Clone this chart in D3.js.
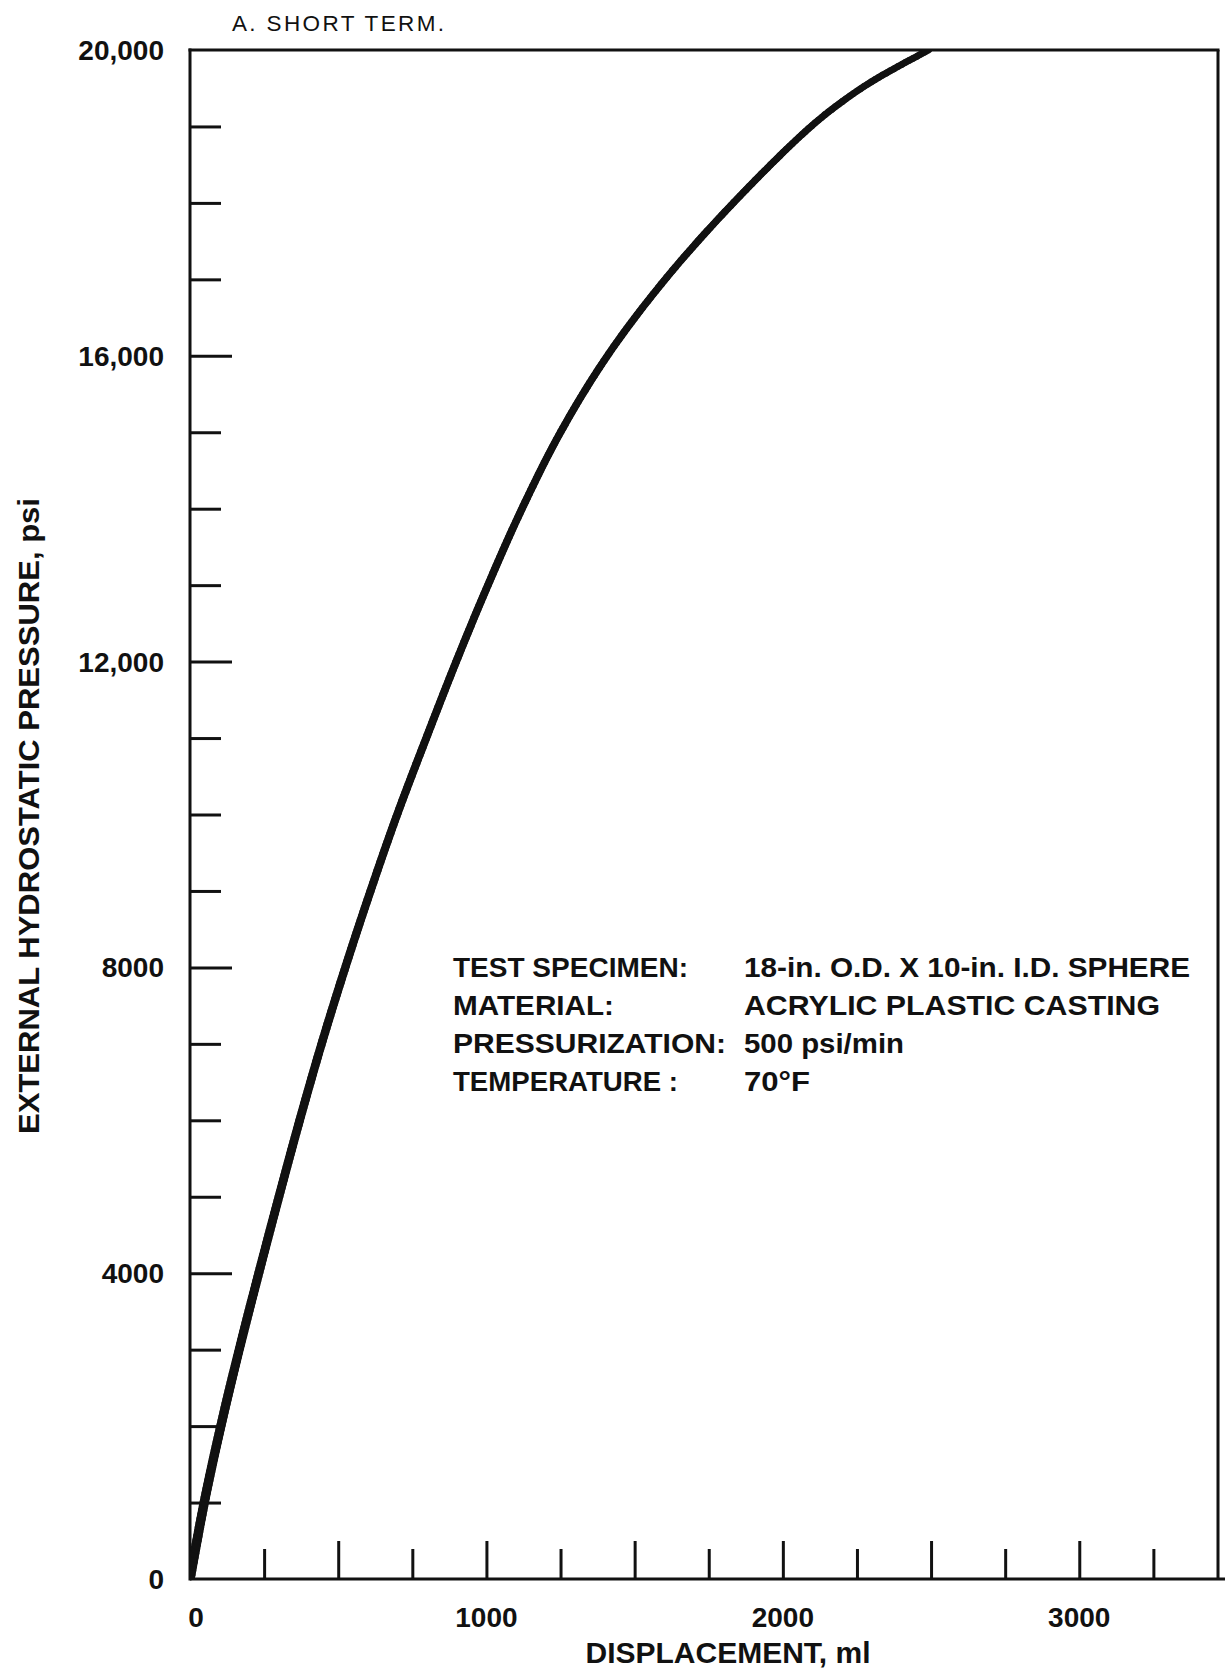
<!DOCTYPE html>
<html>
<head>
<meta charset="utf-8">
<script src="https://cdn.jsdelivr.net/npm/d3@7/dist/d3.min.js"></script>
<style>
  html, body { margin: 0; padding: 0; background: #fff; }
  svg { display: block; }
  text { font-family: "Liberation Sans", Arial, Helvetica, sans-serif; fill: #111; }
</style>
</head>
<body>
<svg id="chart" width="1225" height="1672"></svg>
<script>
// ---- data ----
const displacement = [0, 48, 104, 166, 232, 300, 370, 444, 524, 609, 699, 797, 898, 1005, 1120, 1250, 1408, 1603, 1833, 2095, 2227, 2327, 2492];
const pressure     = [0, 1000, 2000, 3000, 4000, 5000, 6000, 7000, 8000, 9000, 10000, 11000, 12000, 13000, 14000, 15000, 16000, 17000, 18000, 19000, 19400, 19650, 20000];

const yMinorTicks = [1000, 2000, 3000, 5000, 6000, 7000, 9000, 10000, 11000, 13000, 14000, 15000, 17000, 18000, 19000];
const yMajorTicks = [4000, 8000, 12000, 16000];
const yLabelValues = [0, 4000, 8000, 12000, 16000, 20000];
const yLabelTexts  = ["0", "4000", "8000", "12,000", "16,000", "20,000"];

const xMinorTicks = [250, 750, 1250, 1750, 2250, 2750, 3250];
const xMajorTicks = [500, 1000, 1500, 2000, 2500, 3000];
const xLabelValues = [0, 1000, 2000, 3000];
const xLabelTexts  = ["0", "1000", "2000", "3000"];

const titleText = "A. SHORT TERM.";
const xTitle = "DISPLACEMENT, ml";
const yTitle = "EXTERNAL HYDROSTATIC PRESSURE, psi";
const noteLabels = ["TEST SPECIMEN:", "MATERIAL:", "PRESSURIZATION:", "TEMPERATURE :"];
const noteValues = ["18-in. O.D. X 10-in. I.D. SPHERE", "ACRYLIC PLASTIC CASTING", "500 psi/min", "70°F"];

// ---- layout ----
const svg = d3.select("#chart");
const mLeft = 190, mRight = 1218, mTop = 50, mBottom = 1579;

const x = d3.scaleLinear().domain([0, 3468]).range([mLeft, mRight]);
const y = d3.scaleLinear().domain([0, 20000]).range([mBottom, mTop]);

svg.append("defs").append("clipPath").attr("id", "plotClip")
  .append("rect").attr("x", mLeft).attr("y", mTop).attr("width", mRight - mLeft).attr("height", mBottom - mTop);

// frame
const frame = svg.append("g").attr("stroke", "#111").attr("stroke-width", 3).attr("fill", "none");
frame.append("line").attr("x1", mLeft).attr("x2", mLeft).attr("y1", mTop - 1.5).attr("y2", mBottom + 1.5);
frame.append("line").attr("x1", mLeft).attr("x2", 1225).attr("y1", mBottom).attr("y2", mBottom);
frame.append("line").attr("x1", mLeft - 1.5).attr("x2", mRight + 1.5).attr("y1", mTop).attr("y2", mTop);
frame.append("line").attr("x1", mRight).attr("x2", mRight).attr("y1", mTop).attr("y2", mBottom);

function styleAxis(g) {
  g.select(".domain").remove();
  g.selectAll(".tick line").attr("stroke", "#111").attr("stroke-width", 3);
}
// y ticks (inward)
svg.append("g").attr("transform", `translate(${mLeft},0)`)
  .call(d3.axisRight(y).tickValues(yMinorTicks).tickSize(31).tickFormat(""))
  .call(styleAxis);
svg.append("g").attr("transform", `translate(${mLeft},0)`)
  .call(d3.axisRight(y).tickValues(yMajorTicks).tickSize(42).tickFormat(""))
  .call(styleAxis);

// x ticks (inward)
svg.append("g").attr("transform", `translate(0,${mBottom})`)
  .call(d3.axisTop(x).tickValues(xMinorTicks).tickSize(30).tickFormat(""))
  .call(styleAxis);
svg.append("g").attr("transform", `translate(0,${mBottom})`)
  .call(d3.axisTop(x).tickValues(xMajorTicks).tickSize(38).tickFormat(""))
  .call(styleAxis);

// y labels
svg.append("g").selectAll("text").data(yLabelValues).join("text")
  .attr("x", 164)
  .attr("y", d => y(d))
  .attr("dy", "0.36em")
  .attr("text-anchor", "end")
  .attr("font-size", 28)
  .attr("font-weight", "bold")
  .text((d, i) => yLabelTexts[i]);

// x labels
svg.append("g").selectAll("text").data(xLabelValues).join("text")
  .attr("x", d => x(d) + (d === 0 ? 6 : 0))
  .attr("y", 1627)
  .attr("text-anchor", "middle")
  .attr("font-size", 28)
  .attr("font-weight", "bold")
  .text((d, i) => xLabelTexts[i]);

// axis titles
svg.append("text")
  .attr("x", 728).attr("y", 1663)
  .attr("text-anchor", "middle")
  .attr("font-size", 30).attr("font-weight", "bold")
  .text(xTitle);

svg.append("text")
  .attr("transform", "translate(39,816) rotate(-90)")
  .attr("text-anchor", "middle")
  .attr("font-size", 29).attr("font-weight", "bold")
  .attr("textLength", 636).attr("lengthAdjust", "spacingAndGlyphs")
  .text(yTitle);

// panel title
svg.append("text")
  .attr("x", 232).attr("y", 31)
  .attr("font-size", 22.5)
  .attr("textLength", 212)
  .text(titleText);

// annotation block
const noteLabelWidths = [235, 161, 273, 225];
const noteValueWidths = [446, 416, 160, 66];
const note = svg.append("g").attr("font-size", 28.5).attr("font-weight", "bold");
note.selectAll("text.l").data(noteLabels).join("text").attr("class", "l")
  .attr("x", 453).attr("y", (d, i) => 977 + i * 38)
  .attr("textLength", (d, i) => noteLabelWidths[i]).attr("lengthAdjust", "spacingAndGlyphs")
  .text(d => d);
note.selectAll("text.v").data(noteValues).join("text").attr("class", "v")
  .attr("x", 744).attr("y", (d, i) => 977 + i * 38)
  .attr("textLength", (d, i) => noteValueWidths[i]).attr("lengthAdjust", "spacingAndGlyphs")
  .text(d => d);

// curve: thick pen stroke, slightly heavier at the bottom like the inked original
const pts = displacement.map((d, i) => [d, pressure[i]]);
const line = d3.line().x(d => x(d[0])).y(d => y(d[1])).curve(d3.curveCatmullRom.alpha(0.5));
const guide = svg.append("path").attr("d", line(pts)).attr("fill", "none").attr("stroke", "none");
const node = guide.node();
const total = node.getTotalLength();
const N = 400;
const samples = d3.range(N + 1).map(i => node.getPointAtLength(total * i / N));
const widthAt = d3.scaleLinear().domain([0, 0.45, 1]).range([9.5, 8, 6.8]);
const cg = svg.append("g").attr("clip-path", "url(#plotClip)");
cg.selectAll("line").data(d3.range(N)).join("line")
  .attr("x1", i => samples[i].x).attr("y1", i => samples[i].y)
  .attr("x2", i => samples[i + 1].x).attr("y2", i => samples[i + 1].y)
  .attr("stroke", "#111")
  .attr("stroke-linecap", "round")
  .attr("stroke-width", i => widthAt(i / N));
</script>
</body>
</html>
